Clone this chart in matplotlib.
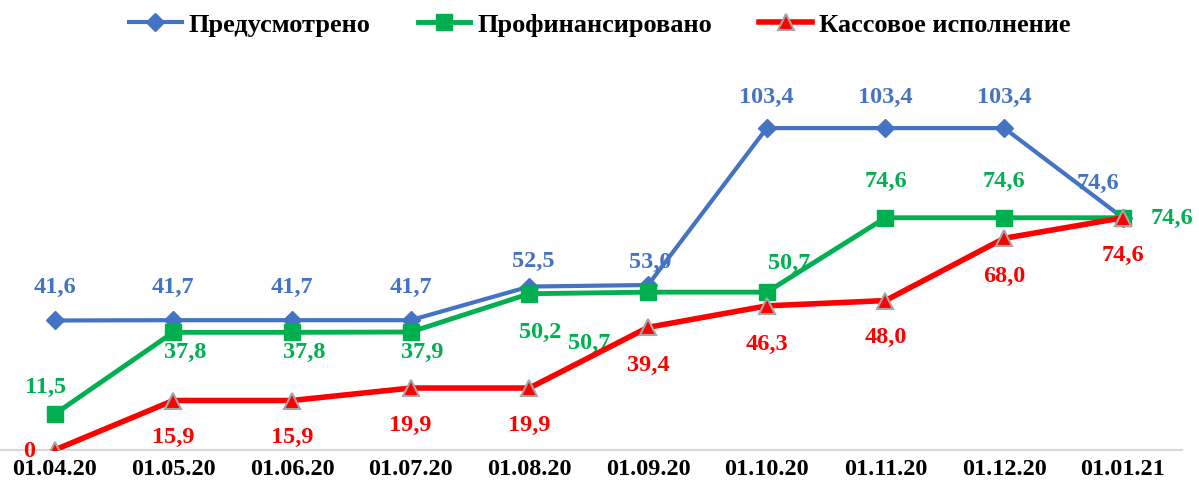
import matplotlib.pyplot as plt

dates = ['01.04.20', '01.05.20', '01.06.20', '01.07.20', '01.08.20',
         '01.09.20', '01.10.20', '01.11.20', '01.12.20', '01.01.21']
planned = [41.6, 41.7, 41.7, 41.7, 52.5, 53.0, 103.4, 103.4, 103.4, 74.6]
funded = [11.5, 37.8, 37.8, 37.9, 50.2, 50.7, 50.7, 74.6, 74.6, 74.6]
cash = [0, 15.9, 15.9, 19.9, 19.9, 39.4, 46.3, 48.0, 68.0, 74.6]

# label offsets in pixels (dx, dy)
off_planned = [(0, 34), (0, 34), (0, 34), (0, 34), (4, 26), (2, 24), (0, 32), (0, 32), (0, 32), (-25, 35)]
off_funded = [(-9, 28), (12, -19), (12, -19), (12, -19), (11, -38), (-59, -50), (22, 30), (0, 37), (0, 37), (49, 0)]
off_cash = [(-25, 0), (0, -36), (0, -36), (0, -36), (0, -36), (0, -37), (0, -38), (0, -36), (0, -37), (0, -37)]

plt.rcParams['font.family'] = ['Liberation Serif', 'DejaVu Serif']
plt.rcParams['font.weight'] = 'bold'

fig = plt.figure(figsize=(11.99, 4.89), dpi=100)
ax = fig.add_axes([-0.004, 0.0777, 0.99, 0.764])

x = range(len(dates))
blue, green, red = '#4472C4', '#00B050', '#FF0000'

ax.plot(x, planned, color=blue, lw=3, marker='D', ms=9, label='Предусмотрено', zorder=3)
ax.plot(x, funded, color=green, lw=3.5, marker='s', ms=11, label='Профинансировано', zorder=4)
ax.plot(x, cash, color=red, lw=4, marker='^', ms=12, mec='#A6A6A6', mew=1.5,
        label='Кассовое исполнение', zorder=5)

def fmt(v):
    return '0' if v == 0 else f'{v:.1f}'.replace('.', ',')

for vals, offs, c in [(planned, off_planned, blue), (funded, off_funded, green), (cash, off_cash, red)]:
    for i, (v, o) in enumerate(zip(vals, offs)):
        ax.annotate(fmt(v), (i, v), xytext=o, textcoords='offset pixels',
                    ha='center', va='center', color=c, fontsize=17.5, fontweight='bold',
                    annotation_clip=False)

ax.set_xlim(-0.5, 9.5)
ax.set_ylim(0, 120)
ax.set_xticks(list(x))
ax.set_xticklabels(dates, fontsize=17.5, fontweight='bold')
ax.set_yticks([])
ax.tick_params(axis='x', length=0, pad=6)
for s in ['top', 'right', 'left']:
    ax.spines[s].set_visible(False)
ax.spines['bottom'].set_color('#D9D9D9')
ax.spines['bottom'].set_linewidth(1.5)

fig.legend(loc='center', bbox_to_anchor=(0.5, 0.948), ncol=3, frameon=False,
           prop={'size': 19, 'weight': 'bold'}, handlelength=2.0, columnspacing=1.8,
           handletextpad=0.25)

fig.savefig('out.png', dpi=100)
